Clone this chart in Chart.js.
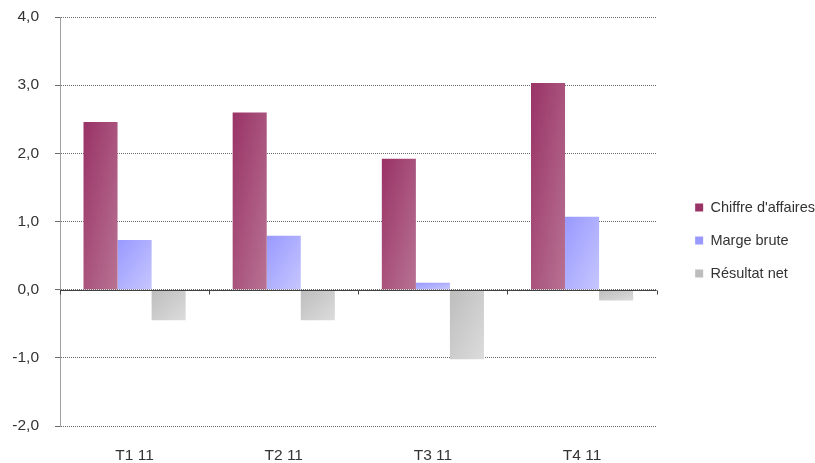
<!DOCTYPE html>
<html>
<head>
<meta charset="utf-8">
<script src="https://cdn.jsdelivr.net/npm/chart.js@4"></script>
<style>
  html, body { margin: 0; padding: 0; background: #fff; }
  #wrap { width: 815px; height: 463px; }
</style>
</head>
<body>
<div id="wrap"><canvas id="chart1"></canvas></div>
<script>
var labels = ['T1 11', 'T2 11', 'T3 11', 'T4 11'];
var chiffre = [2.46, 2.60, 1.92, 3.03];
var marge = [0.73, 0.79, 0.10, 1.07];
var resultat = [-0.45, -0.45, -1.02, -0.16];
var yTicks = [-2, -1, 0, 1, 2, 3, 4];

// dark top-left -> light bottom-right, per series
var shades = [
	['#993366', '#b87293'],
	['#9999ff', '#c6c6ff'],
	['#bdbdbd', '#dcdcdc']
];

var gradientBars = {
	id: 'gradientBars',
	afterDatasetsUpdate: function(chart) {
		var ctx = chart.ctx;
		chart.data.datasets.forEach(function(ds, di) {
			chart.getDatasetMeta(di).data.forEach(function(el) {
				var w = el.width, l = el.x - w / 2;
				var t = Math.min(el.y, el.base), h = Math.abs(el.base - el.y) || 1;
				var k = 2 * w * h / (h * h + w * w);
				var g = ctx.createLinearGradient(l, t, l + k * h, t + k * w);
				g.addColorStop(0, shades[di][0]);
				g.addColorStop(1, shades[di][1]);
				el.options = Object.assign({}, el.options, {backgroundColor: g});
			});
		});
	}
};

// solid axis line at 0 with the category ticks hanging under it
var zeroAxis = {
	id: 'zeroAxis',
	afterDatasetsDraw: function(chart) {
		var ctx = chart.ctx, x = chart.scales.x, y = chart.scales.y;
		var y0 = Math.round(y.getPixelForValue(0)) + 0.5;
		var step = x.width / labels.length;
		ctx.save();
		ctx.strokeStyle = '#404040';
		ctx.lineWidth = 1;
		ctx.beginPath();
		ctx.moveTo(x.left, y0);
		ctx.lineTo(x.right, y0);
		for (var i = 0; i <= labels.length; i++) {
			var px = Math.round(x.left + i * step) + 0.5;
			ctx.moveTo(px, y0);
			ctx.lineTo(px, y0 + 4);
		}
		ctx.stroke();
		ctx.restore();
	}
};

Chart.defaults.font.family = '"Liberation Sans", Arial, sans-serif';
Chart.defaults.font.size = 15.5;
Chart.defaults.color = '#333333';

new Chart(document.getElementById('chart1').getContext('2d'), {
	type: 'bar',
	data: {
		labels: labels,
		datasets: [
			{label: "Chiffre d'affaires", data: chiffre, backgroundColor: shades[0][0]},
			{label: 'Marge brute', data: marge, backgroundColor: shades[1][0]},
			{label: 'Résultat net', data: resultat, backgroundColor: shades[2][0]}
		]
	},
	options: {
		responsive: true,
		maintainAspectRatio: false,
		animation: false,
		datasets: {bar: {categoryPercentage: 0.685, barPercentage: 1, borderWidth: 0}},
		layout: {padding: {left: 0, top: 8, right: -10, bottom: -10}},
		plugins: {
			legend: {
				position: 'right',
				maxWidth: 200,
				labels: {boxWidth: 8, boxHeight: 8, padding: 18.5, color: '#333333', font: {size: 14.5}}
			},
			tooltip: {enabled: false}
		},
		scales: {
			x: {
				grid: {display: false, drawTicks: false},
				border: {display: false},
				ticks: {padding: 20, color: '#333333'},
				afterFit: function(s) { s.height = 47; }
			},
			y: {
				min: -2,
				max: 4,
				afterBuildTicks: function(s) {
					s.ticks = yTicks.map(function(v) { return {value: v}; });
				},
				ticks: {
					padding: 16,
					color: '#333333',
					callback: function(v) { return v.toFixed(1).replace('.', ','); }
				},
				grid: {color: '#6a6a6a', tickLength: 5, tickColor: '#6a6a6a'},
				border: {display: true, color: '#a0a0a0', dash: [1, 1]},
				afterFit: function(s) { s.width = 60; s.paddingTop = 17; }
			},
			gap: {
				position: 'right',
				display: true,
				grid: {display: false, drawTicks: false},
				border: {display: false},
				ticks: {display: false},
				afterFit: function(s) { s.width = 20; }
			}
		}
	},
	plugins: [gradientBars, zeroAxis]
});
</script>
</body>
</html>
